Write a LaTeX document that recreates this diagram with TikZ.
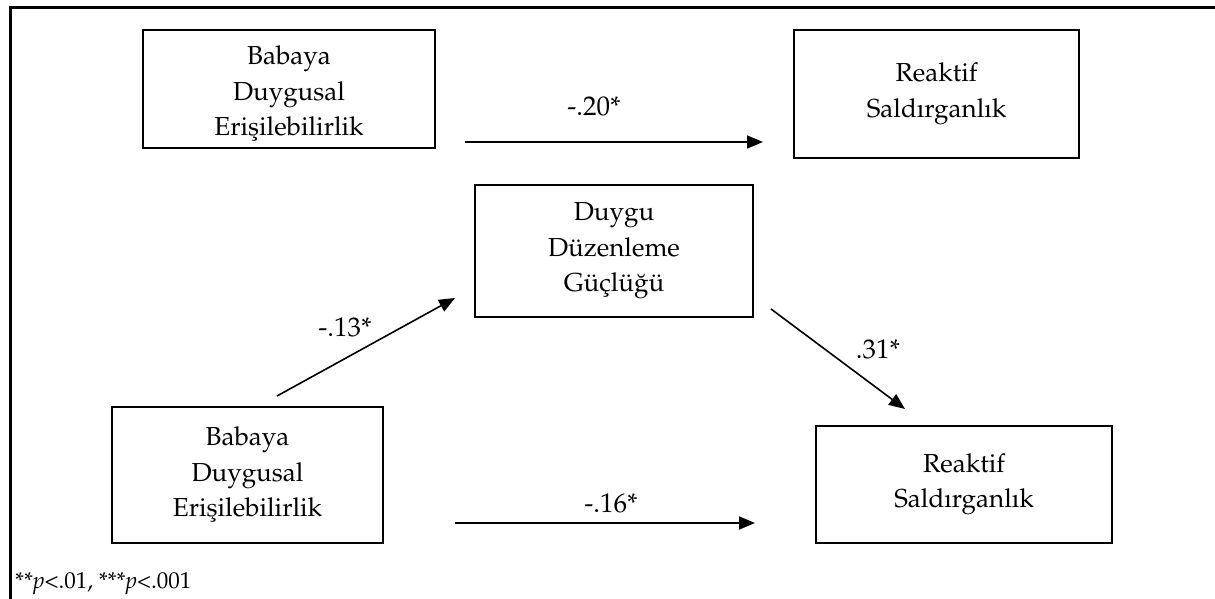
\documentclass[tikz,border=0pt]{standalone}
\usepackage[T1]{fontenc}
\usepackage{mathpazo}
\usetikzlibrary{arrows.meta}
\tikzset{
  box/.style={draw, line width=1.6pt, inner sep=0pt, align=center,
    font=\fontsize{26}{35.5}\selectfont},
  conn/.style={line width=1.6pt, -{Triangle[length=16pt,width=13pt]}},
  coef/.style={anchor=base, inner sep=0pt, font=\fontsize{27}{30}\selectfont},
  note/.style={anchor=base west, inner sep=0pt, font=\fontsize{23}{26}\selectfont}
}
\begin{document}
\begin{tikzpicture}[x=1pt,y=-1pt]
\useasboundingbox (0,0) rectangle (1215,599);
% frame
\draw[line width=2.6pt] (10.5,599) -- (10.5,7.5) -- (1215,7.5);
% boxes
\node[box, minimum width=292pt, minimum height=118pt] (tl) at (289,89)
  {\rule{0pt}{28pt}Babaya\\Duygusal\\Eri\c{s}ilebilirlik};
\node[box, minimum width=285pt, minimum height=128pt] (tr) at (936.5,94)
  {Reaktif\\Sald\i rganl\i k};
\node[box, minimum width=278pt, minimum height=132pt] (mid) at (614,251)
  {Duygu\\D\"uzenleme\\G\"u\c{c}l\"u\u{g}\"u};
\node[box, minimum width=271pt, minimum height=136pt] (bl) at (247.5,475)
  {Babaya\\Duygusal\\Eri\c{s}ilebilirlik};
\node[box, minimum width=296pt, minimum height=117pt] (br) at (964,484.5)
  {Reaktif\\Sald\i rganl\i k};
% connector end points
\coordinate (a1s) at (465,142);
\coordinate (a1e) at (763,142);
\coordinate (a2s) at (277,396);
\coordinate (a2e) at (455,298);
\coordinate (a3s) at (771,309);
\coordinate (a3e) at (905,409);
\coordinate (a4s) at (455,523);
\coordinate (a4e) at (755,523);
\draw[conn] (a1s) -- (a1e);
\draw[conn] (a2s) -- (a2e);
\draw[conn] (a3s) -- (a3e);
\draw[conn] (a4s) -- (a4e);
% coefficients
\node[coef] (c1) at (594,116) {-.20*};
\node[coef] (c2) at (345,336) {-.13*};
\node[coef] (c3) at (878,358) {.31*};
\node[coef] (c4) at (611,512) {-.16*};
% footnote
\node[note] (fn) at (15,588) {**\textit{p}<.01, ***\textit{p}<.001};
\end{tikzpicture}
\end{document}
